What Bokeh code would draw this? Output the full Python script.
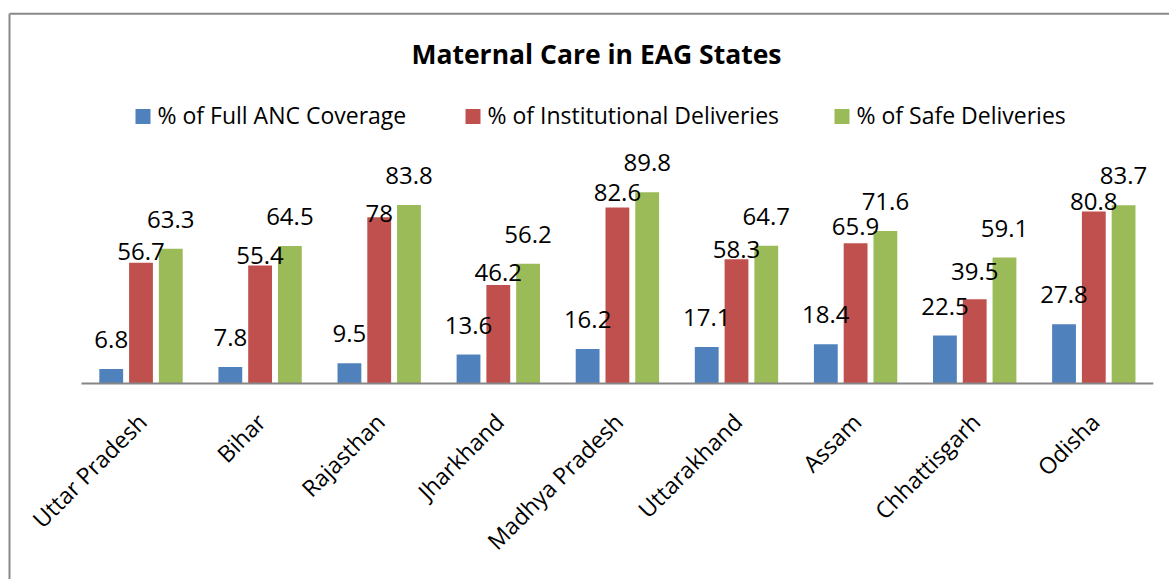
import math
from bokeh.plotting import figure
from bokeh.models import Range1d
from bokeh.core.properties import value
from bokeh.embed import file_html
from bokeh.resources import INLINE

# ---- data ----
states = ["Uttar Pradesh", "Bihar", "Rajasthan", "Jharkhand", "Madhya Pradesh",
          "Uttarakhand", "Assam", "Chhattisgarh", "Odisha"]
anc_coverage = [6.8, 7.8, 9.5, 13.6, 16.2, 17.1, 18.4, 22.5, 27.8]
institutional = [56.7, 55.4, 78, 46.2, 82.6, 58.3, 65.9, 39.5, 80.8]
safe_deliveries = [63.3, 64.5, 83.8, 56.2, 89.8, 64.7, 71.6, 59.1, 83.7]
series_names = ["% of Full ANC Coverage", "% of Institutional Deliveries", "% of Safe Deliveries"]
title_text = "Maternal Care in EAG States"

# ---- style ----
colors = ["#4F81BD", "#C0504D", "#9BBB59"]
FONT = "Open Sans"
W, H = 1169, 579
CAT0, CAT_STEP = 140.5, 119.1        # page px of first category centre, step
ZERO_Y, PX_PER_UNIT = 383.0, 2.13     # page px of y=0, pixels per unit
BAR_W, BAR_OFF = 0.2, 0.25
SHIFT = 10                            # px correction for text baseline rendering
LABEL_GAP = [[19.5] * 9, [1, 0, -6, 3, 5, 0, 7, 18, 0], [19.5] * 9]  # px above bar top


def dx(px):
    return (px - CAT0) / CAT_STEP


def dy(py):
    return (ZERO_Y - py) / PX_PER_UNIT


p = figure(width=W, height=H, output_backend="svg", toolbar_location=None,
           x_range=Range1d(dx(0), dx(W)), y_range=Range1d(dy(H), dy(0)),
           x_axis_location=None, y_axis_location=None)
p.min_border_left = 0
p.min_border_right = 0
p.min_border_top = 0
p.min_border_bottom = 0
p.outline_line_color = None
p.background_fill_color = "white"
p.border_fill_color = "white"
try:
    p.xgrid.visible = False
    p.ygrid.visible = False
except Exception:
    pass

n = len(states)
xs = list(range(n))
all_series = [anc_coverage, institutional, safe_deliveries]
offsets = [-BAR_OFF, 0.0, BAR_OFF]

for s, vals in enumerate(all_series):
    bx = [i + offsets[s] for i in xs]
    p.vbar(x=bx, top=vals, bottom=0, width=BAR_W, fill_color=colors[s], line_color=None)

# axis line
p.segment(x0=[-0.5], y0=[0], x1=[n - 0.5], y1=[0], line_color="#868686", line_width=2)

# value labels
for s, vals in enumerate(all_series):
    bx = [i + offsets[s] for i in xs]
    ly = [v + (LABEL_GAP[s][i] + SHIFT) / PX_PER_UNIT for i, v in enumerate(vals)]
    p.text(x=bx, y=ly, text=[("%g" % v) for v in vals], text_align="center",
           text_baseline="alphabetic", text_font=value(FONT), text_font_size="24px",
           text_color="black")

# category labels (rotated)
p.text(x=[i + 1 / CAT_STEP for i in xs], y=[dy(ZERO_Y + 34)] * n, text=states,
       angle=math.pi / 4, text_align="right", text_baseline="middle",
       text_font=value(FONT), text_font_size="23px", text_color="black")

# title
p.text(x=[dx(596)], y=[dy(63 - SHIFT)], text=[title_text], text_align="center",
       text_baseline="alphabetic", text_font=value(FONT), text_font_size="26.5px",
       text_font_style="bold", text_color="black")

# legend
sq_x = [142.5, 472.5, 841.5]
tx_x = [157, 487, 856]
for s in range(3):
    p.scatter(x=[dx(sq_x[s])], y=[dy(116)], marker="square", size=15,
              fill_color=colors[s], line_color=None)
    p.text(x=[dx(tx_x[s])], y=[dy(124 - SHIFT)], text=[series_names[s]], text_align="left",
           text_baseline="alphabetic", text_font=value(FONT), text_font_size="23px",
           text_color="black")

# chart border (top and left visible)
p.segment(x0=[dx(9)], y0=[dy(13.3)], x1=[dx(1200)], y1=[dy(13.3)], line_color="#898989", line_width=2)
p.segment(x0=[dx(9)], y0=[dy(13.3)], x1=[dx(9)], y1=[dy(620)], line_color="#898989", line_width=2)

open("out.html", "w").write(file_html(p, INLINE))
